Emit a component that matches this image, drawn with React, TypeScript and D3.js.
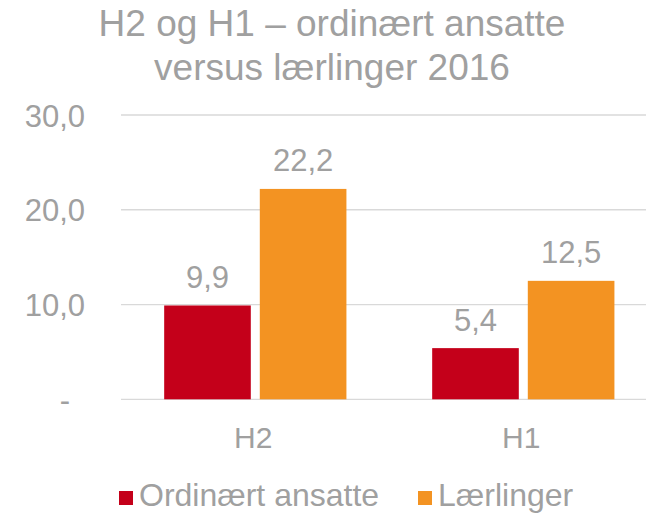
import React from "react";
import * as d3 from "d3";

const categories = ["H2", "H1"];
const seriesNames = ["Ordinært ansatte", "Lærlinger"];
const ordinaertValues = [9.9, 5.4];
const laerlingerValues = [22.2, 12.5];
const yTicks = [0, 10, 20, 30];
const colors = ["#C4001A", "#F39322"];
const titleLines = ["H2 og H1 – ordinært ansatte", "versus lærlinger 2016"];

const W = 646;
const H = 514;
const FONT = "'Liberation Sans', Arial, sans-serif";
const TEXT = "#a0a0a0";

const fmt = (v: number) => (v === 0 ? "-" : v.toFixed(1).replace(".", ","));

export default function App() {
  const seriesValues = [ordinaertValues, laerlingerValues];
  const y = d3.scaleLinear().domain([0, 30]).range([399.3, 115]);
  const x0 = d3
    .scaleBand<string>()
    .domain(categories)
    .range([121.3, 657.3])
    .paddingInner(0.32)
    .paddingOuter(0.16);
  const x1 = d3
    .scaleBand<string>()
    .domain(seriesNames)
    .range([0, x0.bandwidth()])
    .paddingInner(0.094)
    .paddingOuter(0);

  return (
    <svg
      width={W}
      height={H}
      style={{ position: "absolute", left: 0, top: 0, background: "#fff" }}
      fontFamily={FONT}
    >
      <rect x={0} y={0} width={W} height={H} fill="#fff" />
      {titleLines.map((t, i) => (
        <text
          key={t}
          x={332}
          y={36 + i * 44}
          textAnchor="middle"
          fontSize={37}
          fill={TEXT}
        >
          {t}
        </text>
      ))}
      {yTicks.map((t) => (
        <g key={t}>
          <line
            x1={121}
            x2={W}
            y1={y(t)}
            y2={y(t)}
            stroke="#d9d9d9"
            strokeWidth={1.3}
          />
          <text
            x={t === 0 ? 70 : 85}
            y={y(t) + 11.5}
            textAnchor="end"
            fontSize={31}
            fill={TEXT}
          >
            {fmt(t)}
          </text>
        </g>
      ))}
      {categories.map((c, ci) => (
        <g key={c} transform={`translate(${x0(c)},0)`}>
          {seriesNames.map((s, si) => {
            const v = seriesValues[si][ci];
            const bx = x1(s) as number;
            return (
              <g key={s}>
                <rect
                  x={bx}
                  y={y(v)}
                  width={x1.bandwidth()}
                  height={y(0) - y(v)}
                  fill={colors[si]}
                />
                <text
                  x={bx + x1.bandwidth() / 2}
                  y={y(v) - 17.5}
                  textAnchor="middle"
                  fontSize={31}
                  fill={TEXT}
                >
                  {fmt(v)}
                </text>
              </g>
            );
          })}
          <text
            x={x0.bandwidth() / 2 - 2}
            y={447.5}
            textAnchor="middle"
            fontSize={30}
            fill={TEXT}
          >
            {c}
          </text>
        </g>
      ))}
      {seriesNames.map((s, si) => {
        const lx = si === 0 ? 119 : 418;
        return (
          <g key={s}>
            <rect x={lx} y={491} width={14} height={14} fill={colors[si]} />
            <text x={lx + 20} y={506} fontSize={32} fill={TEXT}>
              {s}
            </text>
          </g>
        );
      })}
    </svg>
  );
}
